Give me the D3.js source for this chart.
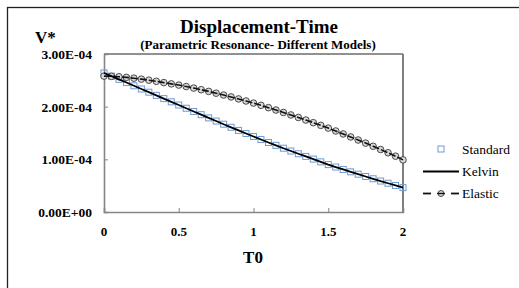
<!DOCTYPE html>
<html>
<head>
<meta charset="utf-8">
<script src="https://cdn.jsdelivr.net/npm/d3@7"></script>
<style>
  body { margin: 0; background: #fff; }
  svg { display: block; }
  text { font-family: "Liberation Serif", "Times New Roman", serif; }
</style>
</head>
<body>
<svg id="svg"></svg>
<script>
// T0 values, step 0.05
let times = d3.range(0, 41).map(i => +(i * 0.05).toFixed(2));

// V* values in units of 1e-4
let standardVals = [2.640, 2.580, 2.519, 2.458, 2.397, 2.336, 2.275, 2.214, 2.153, 2.092,
  2.031, 1.970, 1.909, 1.848, 1.787, 1.727, 1.667, 1.608, 1.549, 1.491,
  1.433, 1.376, 1.320, 1.265, 1.211, 1.158, 1.106, 1.055, 1.005, 0.952,
  0.900, 0.854, 0.808, 0.763, 0.718, 0.674, 0.631, 0.588, 0.546, 0.504, 0.463];
let kelvinVals = [2.640, 2.580, 2.519, 2.458, 2.397, 2.336, 2.275, 2.214, 2.153, 2.092,
  2.031, 1.970, 1.909, 1.848, 1.787, 1.727, 1.667, 1.608, 1.549, 1.491,
  1.433, 1.376, 1.320, 1.265, 1.211, 1.158, 1.106, 1.055, 1.005, 0.952,
  0.900, 0.854, 0.808, 0.763, 0.718, 0.674, 0.631, 0.588, 0.546, 0.504, 0.463];
let elasticVals = [2.580, 2.576, 2.568, 2.556, 2.541, 2.523, 2.503, 2.481, 2.457, 2.433,
  2.410, 2.382, 2.353, 2.322, 2.290, 2.256, 2.221, 2.185, 2.147, 2.108,
  2.068, 2.025, 1.981, 1.936, 1.890, 1.843, 1.795, 1.746, 1.696, 1.645,
  1.593, 1.538, 1.482, 1.425, 1.367, 1.308, 1.248, 1.187, 1.125, 1.060, 0.990];

let xTicks = [0, 0.5, 1, 1.5, 2];
let yTicks = [0, 1e-4, 2e-4, 3e-4];
let yTickLabels = ["0.00E+00", "1.00E-04", "2.00E-04", "3.00E-04"];
let seriesNames = ["Standard", "Kelvin", "Elastic"];

let width = 519, height = 288;
let svg = d3.select("#svg").attr("width", width).attr("height", height);

// outer chart frame
svg.append("rect")
  .attr("x", 7.5).attr("y", 7.5)
  .attr("width", 540).attr("height", 300)
  .attr("fill", "none").attr("stroke", "#222").attr("stroke-width", 1.3);

let x = d3.scaleLinear().domain([0, 2]).range([104, 403]);
let y = d3.scaleLinear().domain([0, 3e-4]).range([212, 54]);

// plot border: top dark, right gray
svg.append("line").attr("x1", x(0)).attr("x2", x(2)).attr("y1", y(3e-4)).attr("y2", y(3e-4))
  .attr("stroke", "#222").attr("stroke-width", 1);
svg.append("line").attr("x1", x(2)).attr("x2", x(2)).attr("y1", y(3e-4)).attr("y2", y(0))
  .attr("stroke", "#7f7f7f").attr("stroke-width", 2);

// axes
let xAxis = d3.axisBottom(x).tickValues(xTicks).tickSize(-4).tickFormat("");
let yAxis = d3.axisLeft(y).tickValues(yTicks).tickSize(-4).tickFormat("");
svg.append("g").attr("transform", `translate(0,${y(0)})`).call(xAxis)
  .call(g => g.select(".domain").attr("stroke", "#868686").attr("stroke-width", 1.6))
  .call(g => g.selectAll(".tick line").attr("stroke", "#868686"));
svg.append("g").attr("transform", `translate(${x(0)},0)`).call(yAxis)
  .call(g => g.select(".domain").attr("stroke", "#868686").attr("stroke-width", 1.6))
  .call(g => g.selectAll(".tick line").attr("stroke", "#868686"));

// tick labels
svg.append("g").selectAll("text").data(xTicks).join("text")
  .attr("x", d => x(d)).attr("y", 236)
  .attr("text-anchor", "middle").attr("font-size", 13).attr("font-weight", "bold")
  .text(d => d);
svg.append("g").selectAll("text").data(yTicks).join("text")
  .attr("x", 92).attr("y", d => y(d) + 5)
  .attr("text-anchor", "end").attr("font-size", 13.5).attr("font-weight", "bold")
  .text((d, i) => yTickLabels[i]);

// titles
svg.append("text").attr("x", 259).attr("y", 33).attr("text-anchor", "middle")
  .attr("font-size", 19).attr("font-weight", "bold").text("Displacement-Time");
svg.append("text").attr("x", 258).attr("y", 49).attr("text-anchor", "middle")
  .attr("font-size", 13).attr("font-weight", "bold").text("(Parametric Resonance- Different Models)");
svg.append("text").attr("x", 35).attr("y", 43)
  .attr("font-size", 17).attr("font-weight", "bold").text("V*");
svg.append("text").attr("x", 253).attr("y", 263).attr("text-anchor", "middle")
  .attr("font-size", 17).attr("font-weight", "bold").text("T0");

let line = d3.line().x(d => x(d[0])).y(d => y(d[1] * 1e-4));
let stdData = times.map((t, i) => [t, standardVals[i]]);
let kelData = times.map((t, i) => [t, kelvinVals[i]]);
let elaData = times.map((t, i) => [t, elasticVals[i]]);

// Standard markers
svg.append("g").selectAll("rect").data(stdData).join("rect")
  .attr("x", d => x(d[0]) - 3).attr("y", d => y(d[1] * 1e-4) - 3)
  .attr("width", 6).attr("height", 6)
  .attr("fill", "none").attr("stroke", "#6f9bd4").attr("stroke-width", 1);

// Elastic: circles with dashed line over them
svg.append("g").selectAll("circle").data(elaData).join("circle")
  .attr("cx", d => x(d[0])).attr("cy", d => y(d[1] * 1e-4)).attr("r", 3.3)
  .attr("fill", "#d8d8d8").attr("stroke", "#3a3a3a").attr("stroke-width", 0.9);
svg.append("path").datum(elaData).attr("d", line)
  .attr("fill", "none").attr("stroke", "#111").attr("stroke-width", 1.6)
  .attr("stroke-dasharray", "7,2");

// Kelvin line
svg.append("path").datum(kelData).attr("d", line)
  .attr("fill", "none").attr("stroke", "#000").attr("stroke-width", 1.8);

// legend
let leg = svg.append("g");
leg.append("rect").attr("x", 438).attr("y", 146).attr("width", 6).attr("height", 6)
  .attr("fill", "none").attr("stroke", "#6f9bd4").attr("stroke-width", 1);
leg.append("line").attr("x1", 423).attr("x2", 459).attr("y1", 171.5).attr("y2", 171.5)
  .attr("stroke", "#000").attr("stroke-width", 1.8);
leg.append("line").attr("x1", 423).attr("x2", 431).attr("y1", 193.5).attr("y2", 193.5)
  .attr("stroke", "#111").attr("stroke-width", 1.8);
leg.append("line").attr("x1", 451).attr("x2", 459).attr("y1", 193.5).attr("y2", 193.5)
  .attr("stroke", "#111").attr("stroke-width", 1.8);
leg.append("circle").attr("cx", 441).attr("cy", 193.5).attr("r", 3)
  .attr("fill", "#d8d8d8").attr("stroke", "#3a3a3a").attr("stroke-width", 0.9);
leg.append("line").attr("x1", 437).attr("x2", 445).attr("y1", 193.5).attr("y2", 193.5)
  .attr("stroke", "#111").attr("stroke-width", 1.4);
leg.selectAll("text.lab").data(seriesNames).join("text").attr("class", "lab")
  .attr("x", 462).attr("y", (d, i) => 154 + i * 22)
  .attr("font-size", 13.5).text(d => d);
</script>
</body>
</html>
